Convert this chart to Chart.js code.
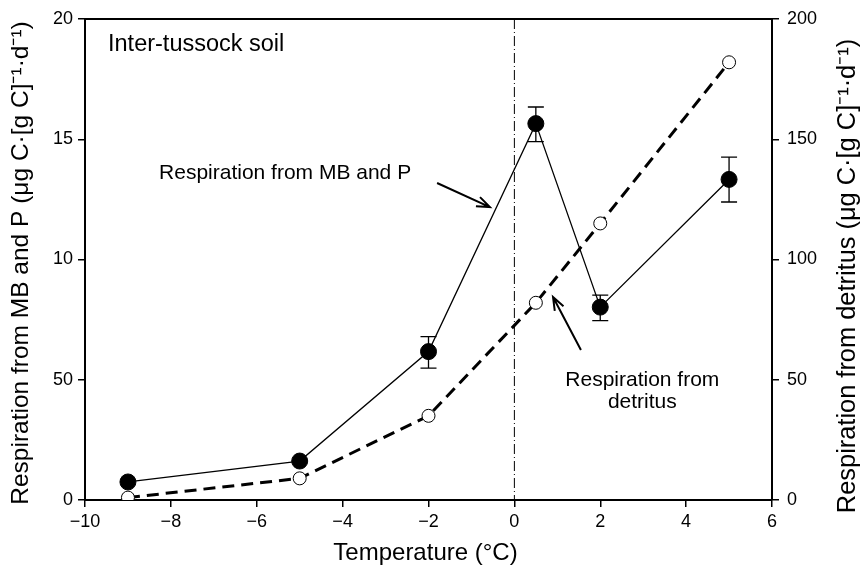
<!DOCTYPE html>
<html>
<head>
<meta charset="utf-8">
<script src="https://cdn.jsdelivr.net/npm/chart.js@4/dist/chart.umd.min.js"></script>
<style>
  html, body { margin: 0; padding: 0; background: #fff; }
  #wrap { width: 865px; height: 572px; }
</style>
</head>
<body>
<div id="wrap"><canvas id="chart" width="865" height="572"></canvas></div>
<script>
// Inter-tussock soil respiration vs temperature

const temps = [-9, -5, -2, 0.5, 2, 5];
const mbpResp = [0.75, 1.62, 6.17, 15.65, 8.02, 13.33];
const mbpErrHigh = [null, null, 6.79, 16.34, 8.52, 14.26];
const mbpErrLow = [null, null, 5.48, 14.9, 7.46, 12.39];
const detritusResp = [1, 9, 35, 82, 115, 182];

const xTickValues = [-10, -8, -6, -4, -2, 0, 2, 4, 6];
const leftTickValues = [0, 5, 10, 15, 20];
const leftTickLabels = ["0", "50", "10", "15", "20"]; // as printed in the figure
const rightTickValues = [0, 50, 100, 150, 200];

const FONT = "'Liberation Sans', Arial, Helvetica, sans-serif";
const INK = "#000";

const fmtMinus = (v) => (v < 0 ? "\u2212" + Math.abs(v) : String(v));

// frame, zero line, error bars, annotations, axis titles
const decorPlugin = {
  id: "decor",
  beforeDatasetsDraw(chart) {
    const { ctx, chartArea: a, scales } = chart;
    const x0 = scales.x.getPixelForValue(0);
    ctx.save();
    ctx.strokeStyle = INK;
    ctx.lineWidth = 1;
    ctx.setLineDash([10, 3, 1, 3]);
    ctx.beginPath();
    ctx.moveTo(x0, a.top);
    ctx.lineTo(x0, a.bottom);
    ctx.stroke();
    ctx.setLineDash([]);

    // error bars
    ctx.lineWidth = 1.3;
    temps.forEach((t, i) => {
      if (mbpErrHigh[i] == null) return;
      const px = scales.x.getPixelForValue(t);
      const hi = scales.y.getPixelForValue(mbpErrHigh[i]);
      const lo = scales.y.getPixelForValue(mbpErrLow[i]);
      ctx.beginPath();
      ctx.moveTo(px, hi); ctx.lineTo(px, lo);
      ctx.moveTo(px - 8, hi); ctx.lineTo(px + 8, hi);
      ctx.moveTo(px - 8, lo); ctx.lineTo(px + 8, lo);
      ctx.stroke();
    });
    ctx.restore();
  },
  afterDraw(chart) {
    const { ctx, chartArea: a, scales } = chart;
    ctx.save();
    // top frame line
    ctx.strokeStyle = INK;
    ctx.lineWidth = 2;
    ctx.beginPath();
    ctx.moveTo(a.left - 1, a.top);
    ctx.lineTo(a.right + 1, a.top);
    ctx.stroke();

    ctx.fillStyle = INK;
    ctx.textBaseline = "middle";
    ctx.textAlign = "left";
    ctx.font = "23.5px " + FONT;
    ctx.fillText("Inter-tussock soil", a.left + 23, 45);

    const X = (v) => scales.x.getPixelForValue(v);
    const Y = (v) => scales.y.getPixelForValue(v);

    ctx.font = "21px " + FONT;
    ctx.textAlign = "center";
    ctx.fillText("Respiration from MB and P", X(-5.34), Y(13.58));
    ctx.fillText("Respiration from", X(2.98), Y(4.98));
    ctx.fillText("detritus", X(2.98), Y(4.08));

    arrow(ctx, X(-1.8), Y(13.18), X(-0.57), Y(12.18));
    arrow(ctx, X(1.55), Y(6.24), X(0.9), Y(8.44));

    // axis titles
    ctx.font = "24px " + FONT;
    ctx.textAlign = "center";
    ctx.fillText("Temperature (\u00B0C)", (a.left + a.right) / 2 - 3, 553);

    ctx.save();
    ctx.font = "24.5px " + FONT;
    ctx.translate(21, 263);
    ctx.rotate(-Math.PI / 2);
    ctx.fillText("Respiration from MB and P (\u03BCg C\u00B7[g C]\u207B\u00B9\u00B7d\u207B\u00B9)", 0, 0);
    ctx.restore();

    ctx.save();
    ctx.font = "25.4px " + FONT;
    ctx.translate(848, 276);
    ctx.rotate(-Math.PI / 2);
    ctx.fillText("Respiration from detritus (\u03BCg C\u00B7[g C]\u207B\u00B9\u00B7d\u207B\u00B9)", 0, 0);
    ctx.restore();

    ctx.restore();
  }
};

function arrow(ctx, x1, y1, x2, y2) {
  const ang = Math.atan2(y2 - y1, x2 - x1);
  const len = 14, spread = 0.36;
  ctx.save();
  ctx.strokeStyle = INK;
  ctx.lineWidth = 2;
  ctx.beginPath();
  ctx.moveTo(x1, y1);
  ctx.lineTo(x2, y2);
  ctx.moveTo(x2 - len * Math.cos(ang - spread), y2 - len * Math.sin(ang - spread));
  ctx.lineTo(x2, y2);
  ctx.lineTo(x2 - len * Math.cos(ang + spread), y2 - len * Math.sin(ang + spread));
  ctx.stroke();
  ctx.restore();
}

const axisCommon = {
  border: { display: true, color: INK, width: 2 },
  grid: { drawOnChartArea: false, drawTicks: true, tickLength: 7, color: INK, lineWidth: 1.5 },
  ticks: { color: INK, font: { family: FONT, size: 18 }, padding: 4 },
};

new Chart(document.getElementById("chart"), {
  type: "scatter",
  data: {
    datasets: [
      {
        label: "Respiration from detritus",
        data: temps.map((t, i) => ({ x: t, y: detritusResp[i] })),
        yAxisID: "y2",
        showLine: true,
        borderColor: INK,
        borderWidth: 3,
        borderDash: [12, 7],
        pointRadius: 6.5,
        pointBackgroundColor: "#fff",
        pointBorderColor: INK,
        pointBorderWidth: 1,
      },
      {
        label: "Respiration from MB and P",
        data: temps.map((t, i) => ({ x: t, y: mbpResp[i] })),
        yAxisID: "y",
        showLine: true,
        borderColor: INK,
        borderWidth: 1.3,
        pointRadius: 8,
        pointBackgroundColor: INK,
        pointBorderColor: INK,
        pointBorderWidth: 1,
      },
    ],
  },
  options: {
    responsive: false,
    animation: false,
    layout: { padding: { top: 19, left: 0, right: 0, bottom: 0 } },
    plugins: { legend: { display: false }, tooltip: { enabled: false } },
    scales: {
      x: {
        ...axisCommon,
        type: "linear",
        min: -10,
        max: 6,
        afterBuildTicks: (s) => { s.ticks = xTickValues.map((v) => ({ value: v })); },
        afterFit: (s) => { s.height = 72; },
        ticks: { ...axisCommon.ticks, callback: (v) => fmtMinus(v) },
      },
      y: {
        ...axisCommon,
        position: "left",
        min: 0,
        max: 20,
        afterBuildTicks: (s) => { s.ticks = leftTickValues.map((v) => ({ value: v })); },
        afterFit: (s) => { s.width = 85; },
        ticks: { ...axisCommon.ticks, padding: 5, callback: (v) => leftTickLabels[leftTickValues.indexOf(v)] },
      },
      y2: {
        ...axisCommon,
        position: "right",
        min: 0,
        max: 200,
        afterBuildTicks: (s) => { s.ticks = rightTickValues.map((v) => ({ value: v })); },
        afterFit: (s) => { s.width = 93; },
        ticks: { ...axisCommon.ticks, padding: 8 },
      },
    },
  },
  plugins: [decorPlugin],
});
</script>
</body>
</html>
